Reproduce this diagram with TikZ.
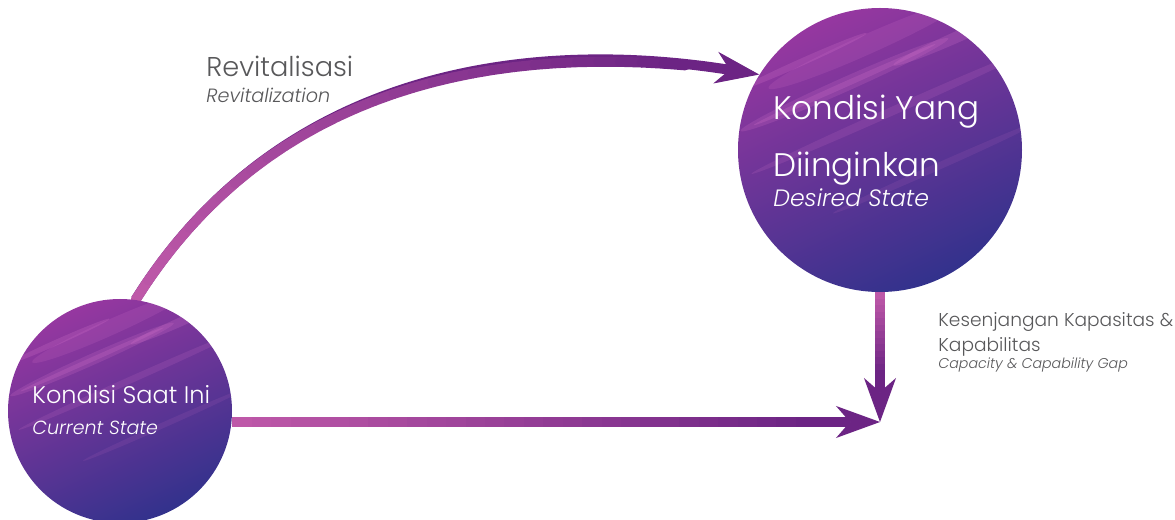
\documentclass[tikz,border=0pt]{standalone}
\usepackage{fontspec}
\setmainfont{Poppins}[UprightFont=* Light, ItalicFont=* Light Italic]
\usetikzlibrary{calc, positioning, arrows.meta, backgrounds}

\definecolor{circtop}{RGB}{150,55,160}
\definecolor{circmid}{RGB}{108,42,150}
\definecolor{circbot}{RGB}{50,50,140}
\definecolor{streakpink}{RGB}{225,125,210}
\definecolor{arrowpink}{RGB}{190,88,168}
\definecolor{arrowpurple}{RGB}{108,36,132}
\definecolor{labelgray}{RGB}{88,88,90}

\tikzset{
  statecirc/.style={circle, inner sep=0pt, minimum size=#1pt,
    top color=circtop, middle color=circmid, bottom color=circbot, shading angle=25},
  streak/.style={streakpink, opacity=#1},
  gaparrow/.style={arrowpurple, line width=5pt, -{Stealth[length=22pt, width=16pt, inset=7pt, line width=0.5pt]}},
  shaftpiece/.style={line width=5pt},
  intext/.style={text=white, inner sep=0pt, anchor=base west},
  outtext/.style={text=labelgray, inner sep=0pt, anchor=base west}
}

\begin{document}
\begin{tikzpicture}[x=0.5pt, y=0.5pt]
  \useasboundingbox (0,0) rectangle (1175,520);

  %the two states
  \node[statecirc=112] (now) at (120,109) {};
  \node[statecirc=142] (goal) at (880,370) {};

  %light streaks across the circles
  \foreach \c/\r in {now/112, goal/142} {
    \begin{scope}[shift={(\c.center)}, scale=\r]
      \clip (0,0) circle [radius=1];
      \foreach \sx/\sy/\sl/\sw/\so in {-0.25/0.46/0.8/0.05/0.18, -0.25/0.46/0.7/0.02/0.2,
          -0.1/0.74/0.75/0.07/0.15, 0.55/0.8/0.5/0.04/0.2, 0.1/0.28/1.1/0.03/0.14,
          0.4/-0.12/0.8/0.025/0.1, -0.55/0.62/0.5/0.025/0.2}
        \fill[streak=\so, rotate around={24:(\sx,\sy)}] (\sx,\sy) ellipse [x radius=\sl, y radius=\sw];
    \end{scope}
  }

  \node[intext, font=\fontsize{12}{14}\selectfont] (nowtitle) at (32,116) {Kondisi Saat Ini};
  \node[intext, font=\fontsize{9.5}{11}\selectfont\itshape] (nowsub) at (32,85) {Current State};
  \node[intext, font=\fontsize{16.3}{19}\selectfont] (goaltitle) at (773,400) {Kondisi Yang};
  \node[intext, font=\fontsize{16.3}{19}\selectfont] (goaltitleb) at (773,343) {Diinginkan};
  \node[intext, font=\fontsize{11.8}{14}\selectfont\itshape] (goalsub) at (773,313) {Desired State};

  %labels of the arrows
  \node[outtext, font=\fontsize{13.6}{16}\selectfont] (revtitle) at (206,443) {Revitalisasi};
  \node[outtext, font=\fontsize{9.6}{11}\selectfont\itshape] (revsub) at (206,417) {Revitalization};
  \node[outtext, font=\fontsize{9.3}{11}\selectfont] (gaptitle) at (938,193) {Kesenjangan Kapasitas \&};
  \node[outtext, font=\fontsize{9.3}{11}\selectfont] (gaptitleb) at (938,168) {Kapabilitas};
  \node[outtext, font=\fontsize{7.1}{9}\selectfont\itshape] (gapsub) at (938,151) {Capacity \& Capability Gap};

  \coordinate (gap) at (880,98);

  \begin{pgfonlayer}{background}
    %arrows in purple, then the pink to purple shaft on top
    \draw[gaparrow] (now.82) .. controls +(58:260) and +(171:250) .. (goal.148);
    \draw[gaparrow] (now.east |- gap) -- (gap);
    \draw[gaparrow] (goal.south) -- (gap);

    \path (now.82) .. controls +(58:260) and +(171:250) .. (goal.148)
      \foreach \i in {0,...,30} {coordinate[pos=\i*0.03] (rv\i)};
    \foreach \i [count=\j from 1] in {0,...,29} {
      \pgfmathtruncatemacro\mix{\i*100/29}
      \draw[shaftpiece, line cap=round, arrowpurple!\mix!arrowpink] (rv\i) -- (rv\j);
      \draw[shaftpiece, arrowpurple!\mix!arrowpink] ($(now.east |- gap)!\i*0.03!(gap)$) -- ($(now.east |- gap)!\j*0.03!(gap)$);
    }
    \foreach \i [count=\j from 1] in {0,...,12} {
      \pgfmathtruncatemacro\mix{\i*100/12}
      \draw[shaftpiece, arrowpurple!\mix!arrowpink] ($(goal.south)!\i*0.05!(gap)$) -- ($(goal.south)!\j*0.05!(gap)$);
    }
  \end{pgfonlayer}

\end{tikzpicture}
\end{document}
